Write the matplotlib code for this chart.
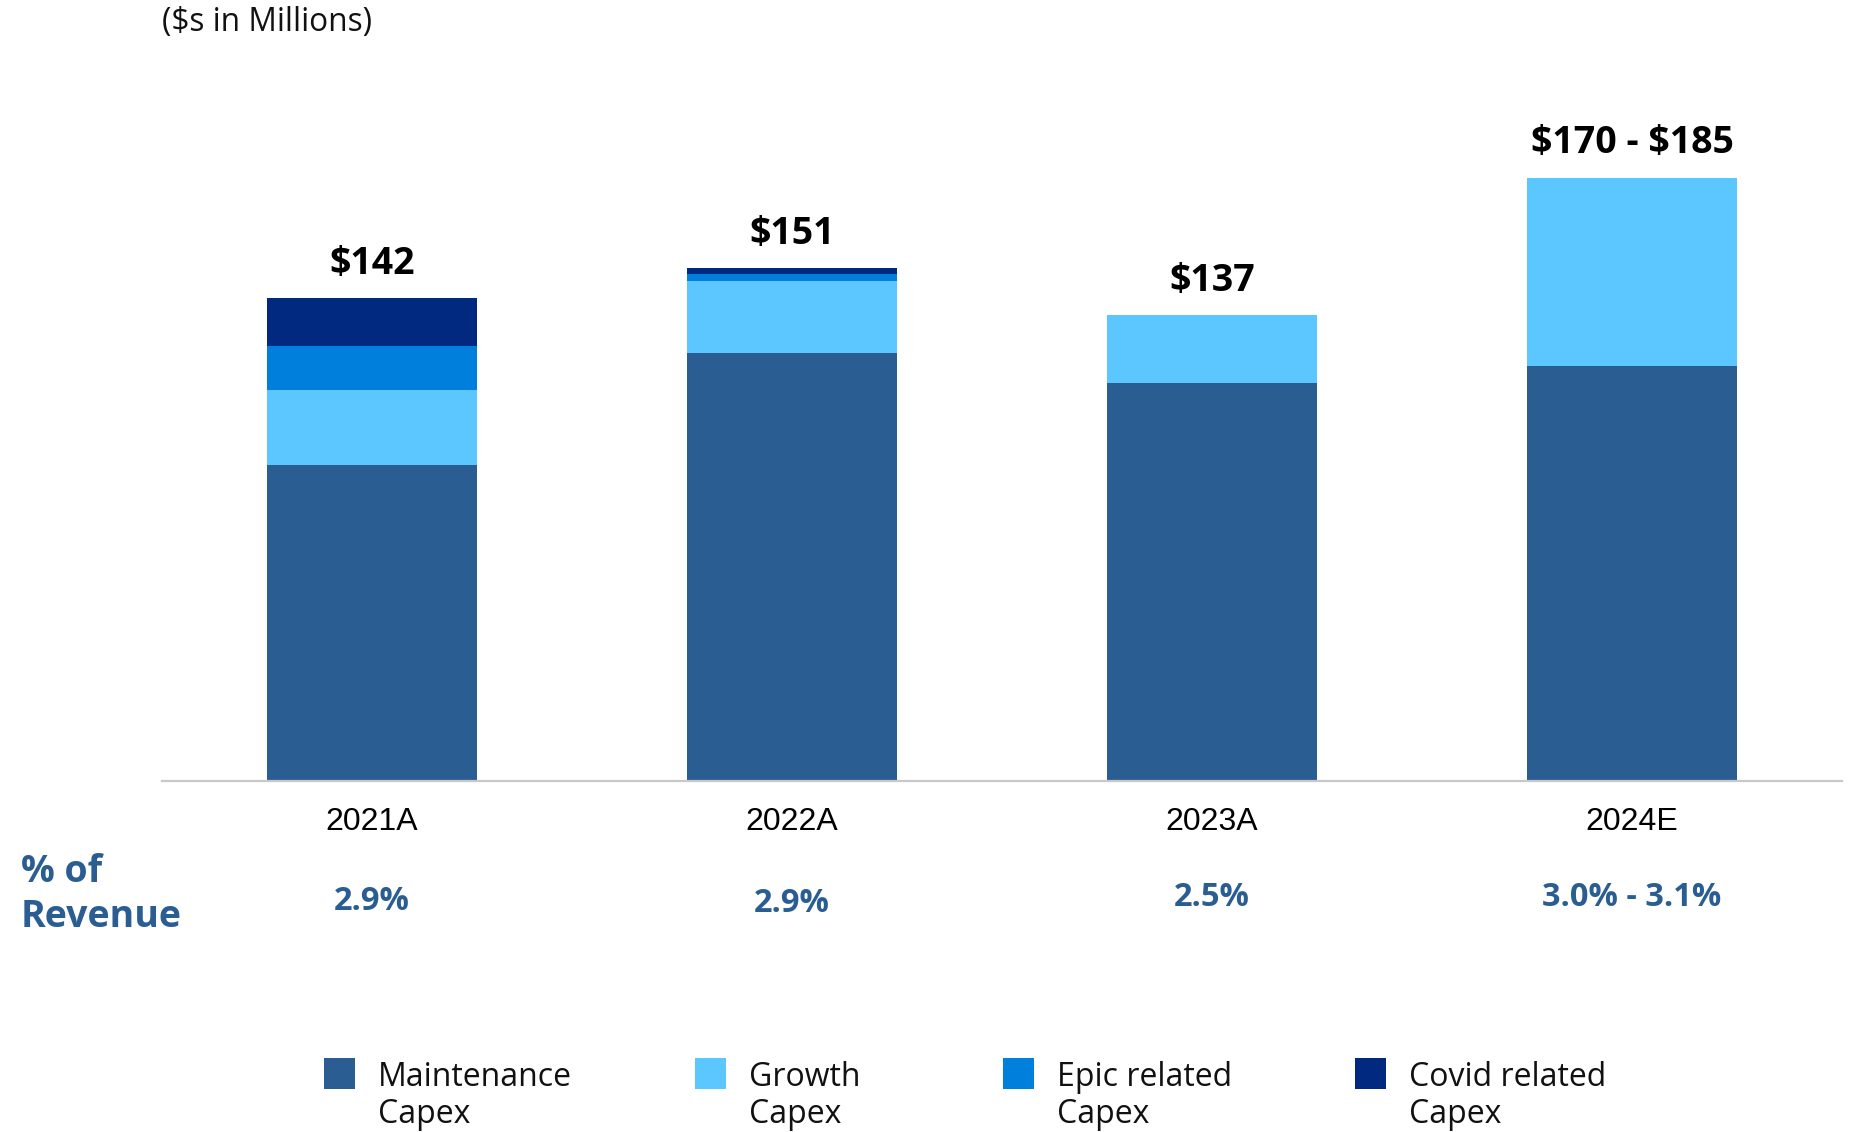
import matplotlib
matplotlib.use("Agg")
import matplotlib.pyplot as plt
from matplotlib.patches import Rectangle
from matplotlib.transforms import blended_transform_factory
import numpy as np

# ---- data ($ in millions) ----
years = ["2021A", "2022A", "2023A", "2024E"]
maintenance = [93, 126, 117, 122]
growth = [22, 21, 20, 55.5]
epic = [13, 2, 0, 0]
covid = [14, 2, 0, 0]
total_labels = [r"\$142", r"\$151", r"\$137", r"\$170 - \$185"]
pct_revenue = ["2.9%", "2.9%", "2.5%", "3.0% - 3.1%"]

series_names = ["Maintenance\nCapex", "Growth\nCapex", "Epic related\nCapex", "Covid related\nCapex"]
series_colors = ["#2A5D92", "#5CC7FF", "#0080DC", "#00297F"]

W, H = 1856, 1132
fig = plt.figure(figsize=(W / 100, H / 100), dpi=100)

def fx(px):
    return px / W

def fy(py):
    return 1 - py / H

ax = fig.add_axes([fx(162), fy(781), fx(1842) - fx(162), (781 - 101) / H])

x = np.arange(len(years))
bottom = np.zeros(len(years))
for vals, color in zip([maintenance, growth, epic, covid], series_colors):
    vals = np.array(vals, dtype=float)
    ax.bar(x, vals, width=0.5, bottom=bottom, color=color, edgecolor="none", zorder=2)
    bottom += vals

ax.set_xlim(-0.5, len(years) - 0.5)
ax.set_ylim(0, 200)
for s in ["top", "right", "left"]:
    ax.spines[s].set_visible(False)
ax.spines["bottom"].set_color("#C8C8C8")
ax.spines["bottom"].set_linewidth(1.6)
ax.set_yticks([])
ax.set_xticks([])

# totals above bars
for i, lab in enumerate(total_labels):
    ax.annotate(lab, (x[i], bottom[i]), xytext=(0, 24.5), textcoords="offset points",
                ha="center", va="center", fontsize=27, fontweight="bold",
                family="Open Sans", color="black")

trans = blended_transform_factory(ax.transData, fig.transFigure)

# year labels
for i, yr in enumerate(years):
    ax.text(x[i], fy(822), yr, transform=trans, ha="center", va="center",
            fontsize=23, family="Liberation Sans", color="black")

# % of revenue row
blue_text = "#2A5D92"
pct_y = [902, 904, 898, 898]
for i, p in enumerate(pct_revenue):
    ax.text(x[i], fy(pct_y[i]), p, transform=trans, ha="center", va="center",
            fontsize=23.5, fontweight="bold", family="Open Sans", color=blue_text)
fig.text(fx(21), fy(872), "% of", ha="left", va="center", fontsize=27,
         fontweight="bold", family="Open Sans", color=blue_text)
fig.text(fx(21), fy(917), "Revenue", ha="left", va="center", fontsize=27,
         fontweight="bold", family="Open Sans", color=blue_text)

# units note
fig.text(fx(162), fy(23), "($s in Millions)", ha="left", va="center",
         fontsize=22.8, family="Open Sans", color="#111111")

# legend
legend_sq_left = [324, 695, 1003, 1355]
sq = 31
for left, name, color in zip(legend_sq_left, series_names, series_colors):
    fig.add_artist(Rectangle((fx(left), fy(1058 + sq)), sq / W, sq / H,
                             transform=fig.transFigure, facecolor=color,
                             edgecolor="none"))
    fig.text(fx(left + sq + 23), fy(1061), name, ha="left", va="top",
             fontsize=23, family="Open Sans", color="#111111", linespacing=1.17)

fig.savefig("out.png", dpi=100)
